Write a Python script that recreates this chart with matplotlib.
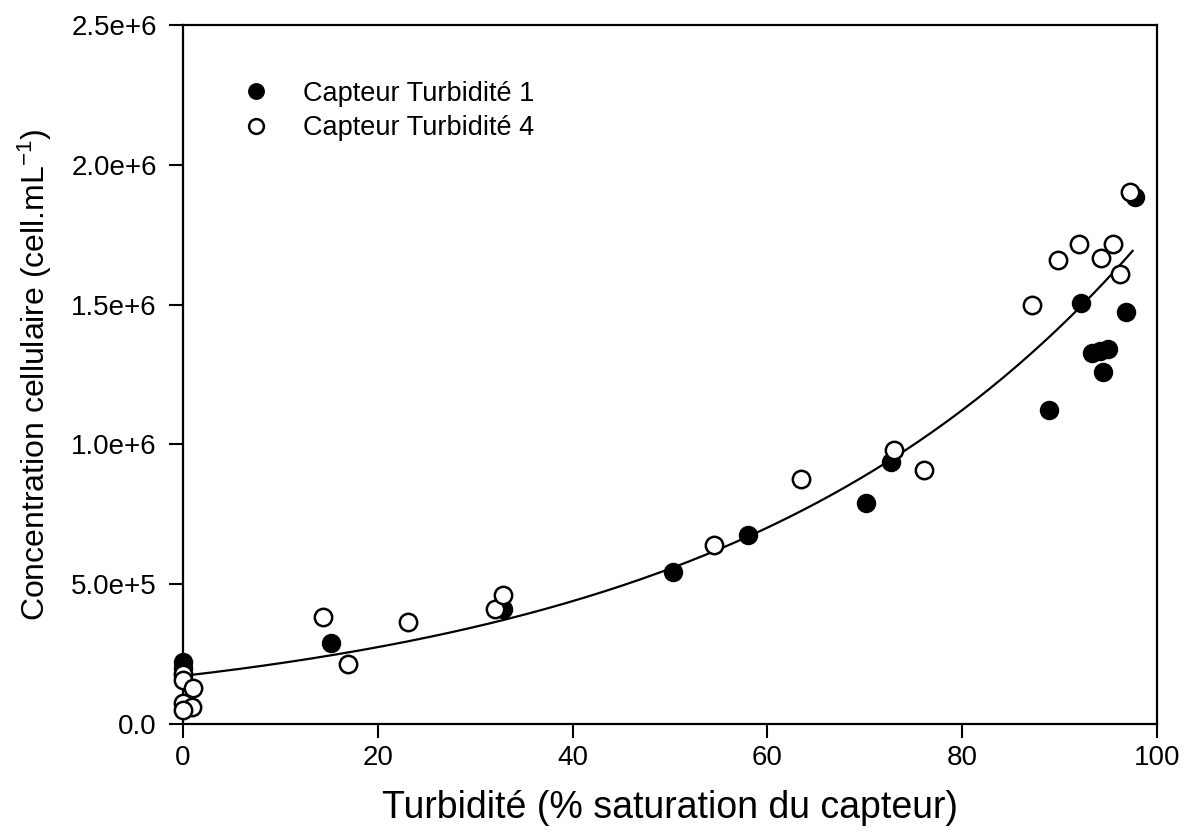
import matplotlib
matplotlib.use('Agg')
import matplotlib.pyplot as plt
import numpy as np

plt.rcParams['font.family'] = ['Liberation Sans', 'DejaVu Sans']
plt.rcParams['mathtext.fontset'] = 'custom'
plt.rcParams['mathtext.rm'] = 'Liberation Sans'
plt.rcParams['mathtext.it'] = 'Liberation Sans:italic'

# Capteur Turbidite 1 (filled)
x1 = [0.0, 0.0, 15.2, 32.8, 50.3, 58.0, 70.1, 72.7, 88.9, 92.2, 93.3, 94.1, 95.0, 94.5, 96.8, 97.7]
y1 = [0.22e6, 0.20e6, 0.289e6, 0.41e6, 0.545e6, 0.677e6, 0.791e6, 0.937e6, 1.123e6, 1.507e6,
      1.326e6, 1.333e6, 1.340e6, 1.258e6, 1.475e6, 1.885e6]

# Capteur Turbidite 4 (open)
x4 = [0.0, 0.0, 1.0, 0.0, 0.9, 0.0, 14.4, 16.9, 23.1, 32.0, 32.8, 54.5, 63.4, 73.0, 76.1,
      87.2, 89.8, 92.0, 94.3, 95.5, 96.2, 97.2]
y4 = [0.18e6, 0.157e6, 0.13e6, 0.075e6, 0.06e6, 0.05e6, 0.381e6, 0.214e6, 0.364e6, 0.413e6,
      0.463e6, 0.641e6, 0.877e6, 0.98e6, 0.909e6, 1.497e6, 1.661e6, 1.718e6, 1.668e6,
      1.718e6, 1.611e6, 1.903e6]

# exponential fit y = a*exp(b*x)
fit_a = 0.172e6
fit_b = 0.02345
fit_x = np.linspace(0, 97.5, 200)
fit_y = fit_a * np.exp(fit_b * fit_x)

yticks = [0, 0.5e6, 1.0e6, 1.5e6, 2.0e6, 2.5e6]
ytick_labels = ['0.0', '5.0e+5', '1.0e+6', '1.5e+6', '2.0e+6', '2.5e+6']
xticks = [0, 20, 40, 60, 80, 100]

fig = plt.figure(figsize=(11.84, 8.36), dpi=100)
ax = fig.add_axes([0.1546, 0.134, 0.8226, 0.836])

ax.plot(fit_x, fit_y, color='black', lw=1.6, zorder=2)
ax.plot(x1, y1, 'o', color='black', ms=12.5, mec='black', mew=1.5,
        label='Capteur Turbidité 1', zorder=3, clip_on=False)
ax.plot(x4, y4, 'o', color='white', ms=12.5, mec='black', mew=1.8,
        label='Capteur Turbidité 4', zorder=4, clip_on=False)

ax.set_xlim(0, 100)
ax.set_ylim(0, 2.5e6)
ax.set_xticks(xticks)
ax.set_yticks(yticks)
ax.set_yticklabels(ytick_labels)
ax.tick_params(direction='out', length=10, width=1.5, labelsize=20)
ax.tick_params(axis='x', pad=5)
ax.tick_params(axis='y', pad=9)
for s in ax.spines.values():
    s.set_linewidth(1.6)

ax.set_xlabel('Turbidité (% saturation du capteur)', fontsize=27, labelpad=14)
ax.set_ylabel('Concentration cellulaire (cell.mL$^{-1}$)', fontsize=23, labelpad=12)

ax.legend(loc='upper left', bbox_to_anchor=(0.022, 0.955), frameon=False, fontsize=19.5,
          handletextpad=0.75, labelspacing=0.3, markerscale=0.85)

fig.savefig('out.png', dpi=100)
